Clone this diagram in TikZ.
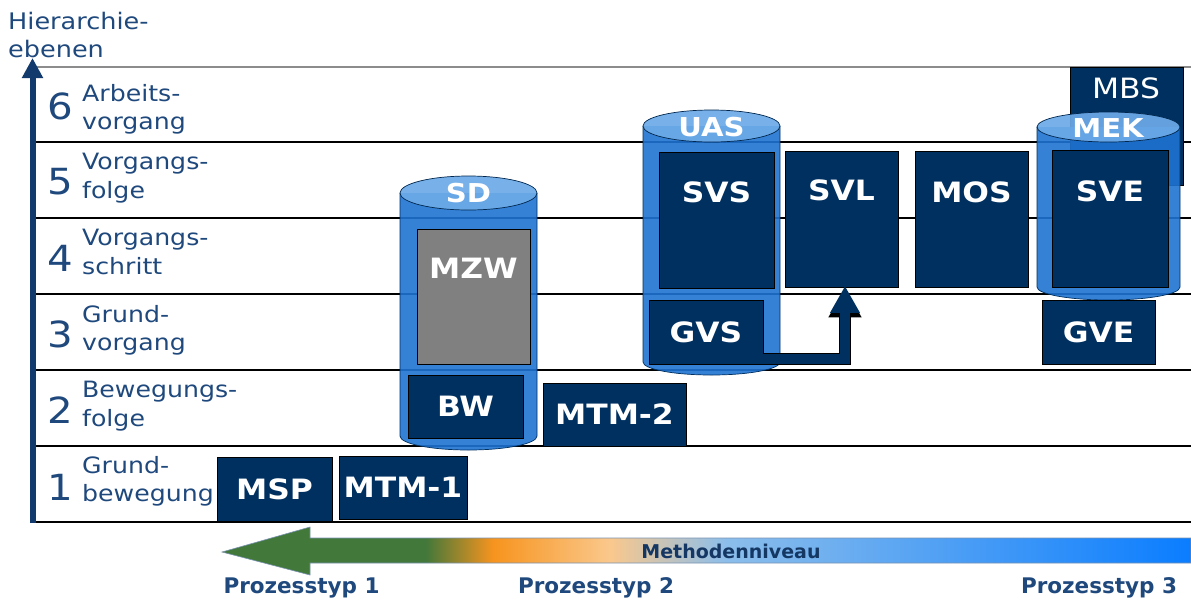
\documentclass[tikz,border=0pt]{standalone}
\usepackage{fontspec}
\setmainfont{DejaVu Sans}
\newfontfamily\wfont{DejaVu Sans}[FakeStretch=1.12]
\usetikzlibrary{arrows.meta,calc}
\definecolor{navy}{RGB}{0,48,96}
\definecolor{lbltxt}{RGB}{31,73,125}
\definecolor{axiscol}{RGB}{18,58,108}
\definecolor{cylbody}{RGB}{30,115,210}
\definecolor{cyltop}{RGB}{108,170,232}
\definecolor{mzwgray}{RGB}{128,128,128}
\definecolor{sgreen}{RGB}{66,120,58}
\definecolor{sorange}{RGB}{247,148,30}
\definecolor{speach}{RGB}{250,200,140}
\definecolor{slblue}{RGB}{140,190,235}
\definecolor{sblue}{RGB}{10,125,255}
\definecolor{methtxt}{RGB}{20,55,100}
\pgfdeclarehorizontalshading{methshade}{100bp}{color(0bp)=(sgreen); color(25bp)=(sgreen); color(35.5bp)=(sgreen); color(39bp)=(sorange); color(45bp)=(speach); color(51bp)=(slblue); color(75bp)=(sblue); color(100bp)=(sblue)}
\tikzset{
  hline/.style={line width=1.5pt, black},
  topline/.style={line width=1.5pt, black!45},
  rowtxt/.style={anchor=north west, align=left, text=lbltxt, font=\wfont\fontsize{22.5}{28.5}\selectfont, inner sep=0pt},
  rownum/.style={text=lbltxt, font=\wfont\fontsize{36}{36}\selectfont, inner sep=0pt},
  navybox/.style={draw=black, line width=0.8pt, fill=navy, inner sep=0pt, text=white, font=\wfont\bfseries\fontsize{28}{28}\selectfont},
  graybox/.style={navybox, fill=mzwgray},
  boxtxt/.style={text=white, font=\wfont\bfseries\fontsize{28}{28}\selectfont, inner sep=0pt},
  mbstxt/.style={text=white, font=\wfont\fontsize{28}{28}\selectfont, inner sep=0pt},
  cyltxt/.style={text=white, font=\wfont\bfseries\fontsize{26}{26}\selectfont, inner sep=0pt},
  cylfill/.style={fill=cylbody, fill opacity=0.9},
  cyledge/.style={draw=navy, line width=0.7pt},
  cyltopst/.style={fill=cyltop, fill opacity=0.92, draw=navy!80!black, line width=0.7pt},
  ptxt/.style={text=lbltxt, font=\bfseries\fontsize{21.5}{21.5}\selectfont, inner sep=0pt},
  connedge/.style={black, line width=12pt, -{Triangle[width=31pt,length=30pt]}},
  conn/.style={navy, line width=10pt, -{Triangle[width=28pt,length=27pt]}},
}
\begin{document}
\begin{tikzpicture}[x=1pt,y=-1pt]
\useasboundingbox (0,0) rectangle (1191,603);

% horizontal level lines
\draw[topline] (35,67) -- (1191,67);
\foreach \yy in {142,218,294,370,446,522} \draw[hline] (35,\yy) -- (1191,\yy);

% axis
\coordinate (axb) at (32.5,523);
\coordinate (axt) at (32.5,58);
\draw[axiscol, line width=6pt, -{Triangle[width=20pt,length=20pt]}] (axb) -- (axt);
\node (htitle) [anchor=north west, align=left, text=lbltxt, font=\wfont\fontsize{22.8}{28}\selectfont, inner sep=0pt] at (8,12) {Hierarchie-\\ebenen};

% row labels
\node (n6) [rownum] at (60,106) {6};
\node (t6) [rowtxt] at (82,84) {Arbeits-\\vorgang};
\node (n5) [rownum] at (60,182) {5};
\node (t5) [rowtxt] at (82,153) {Vorgangs-\\folge};
\node (n4) [rownum] at (60,258) {4};
\node (t4) [rowtxt] at (82,229) {Vorgangs-\\schritt};
\node (n3) [rownum] at (60,334) {3};
\node (t3) [rowtxt] at (82,305) {Grund-\\vorgang};
\node (n2) [rownum] at (60,410) {2};
\node (t2) [rowtxt] at (82,381) {Bewegungs-\\folge};
\node (n1) [rownum] at (60,487) {1};
\node (t1) [rowtxt] at (82,456) {Grund-\\bewegung};

% MBS behind MEK
\node[navybox, minimum width=113pt, minimum height=118pt] (mbs) at (1126.5,126) {};
\node (mbst) [mbstxt] at (1126,88) {MBS};

% SD cylinder
\fill[cylfill] (400,193) -- (400,436) arc[start angle=180, end angle=0, x radius=68.5, y radius=14] -- (537,193) -- cycle;
\draw[cyledge] (400,193) -- (400,436) arc[start angle=180, end angle=0, x radius=68.5, y radius=14] -- (537,193);
\path[cyltopst] (468.5,193) ellipse [x radius=68.5, y radius=17];
\node (sd) [cyltxt] at (468.5,193) {SD};

% UAS cylinder
\fill[cylfill] (643,126) -- (643,362) arc[start angle=180, end angle=0, x radius=68.5, y radius=13] -- (780,126) -- cycle;
\draw[cyledge] (643,126) -- (643,362) arc[start angle=180, end angle=0, x radius=68.5, y radius=13] -- (780,126);
\path[cyltopst] (711.5,126) ellipse [x radius=68.5, y radius=16];
\node (uas) [cyltxt] at (711.5,127) {UAS};

% MEK cylinder
\fill[cylfill] (1037,127) -- (1037,287) arc[start angle=180, end angle=0, x radius=71.5, y radius=13] -- (1180,127) -- cycle;
\draw[cyledge] (1037,127) -- (1037,287) arc[start angle=180, end angle=0, x radius=71.5, y radius=13] -- (1180,127);
\path[cyltopst] (1108.5,127) ellipse [x radius=71.5, y radius=15];
\node (mek) [cyltxt] at (1108,128) {MEK};

% boxes
\node[navybox, minimum width=115pt, minimum height=64pt] (msp) at (274.5,489) {MSP};
\node[navybox, minimum width=128pt, minimum height=63pt] (mtm1) at (403,487.5) {MTM-1};
\node[navybox, minimum width=115pt, minimum height=63pt] (bw) at (465.5,406.5) {BW};
\node[navybox, minimum width=143pt, minimum height=63pt] (mtm2) at (614.5,414.5) {MTM-2};
\node[graybox, minimum width=113pt, minimum height=135pt] (mzw) at (473.5,296.5) {};
\node (mzwt) [boxtxt] at (473.5,268) {MZW};
\node[navybox, minimum width=115pt, minimum height=136pt] (svs) at (716.5,220) {};
\node (svst) [boxtxt] at (716.5,192) {SVS};
\node[navybox, minimum width=114pt, minimum height=64pt] (gvs) at (706,332) {GVS};
\node[navybox, minimum width=113pt, minimum height=136pt] (svl) at (841.5,219) {};
\node (svlt) [boxtxt] at (841.5,190) {SVL};
\node[navybox, minimum width=113pt, minimum height=136pt] (mos) at (971.5,219) {};
\node (most) [boxtxt] at (971.5,192) {MOS};
\node[navybox, minimum width=116pt, minimum height=137pt] (sve) at (1110,218.5) {};
\node (svet) [boxtxt] at (1110,191) {SVE};
\node[navybox, minimum width=113pt, minimum height=64pt] (gve) at (1098.5,332) {GVE};

% connector GVS -> SVL
\draw[connedge] ($(gvs.south east)+(0,-5)$) -| ([xshift=3.5pt]svl.south);
\draw[conn] ($(gvs.south east)+(0,-5)$) -| ([xshift=3.5pt,yshift=1.5pt]svl.south);

% Methodenniveau arrow
\shadedraw[shading=methshade, draw=lbltxt!60, line width=0.6pt] (222,552) -- (310,527) -- (310,538) -- (1191,538) -- (1191,563) -- (310,563) -- (310,575) -- cycle;
\node (meth) [text=methtxt, font=\bfseries\fontsize{19}{19}\selectfont, inner sep=0pt] at (731,551) {Methodenniveau};

\node (p1) [ptxt] at (301.5,588) {Prozesstyp 1};
\node (p2) [ptxt] at (596,588) {Prozesstyp 2};
\node (p3) [ptxt] at (1099,588) {Prozesstyp 3};
\end{tikzpicture}
\end{document}
